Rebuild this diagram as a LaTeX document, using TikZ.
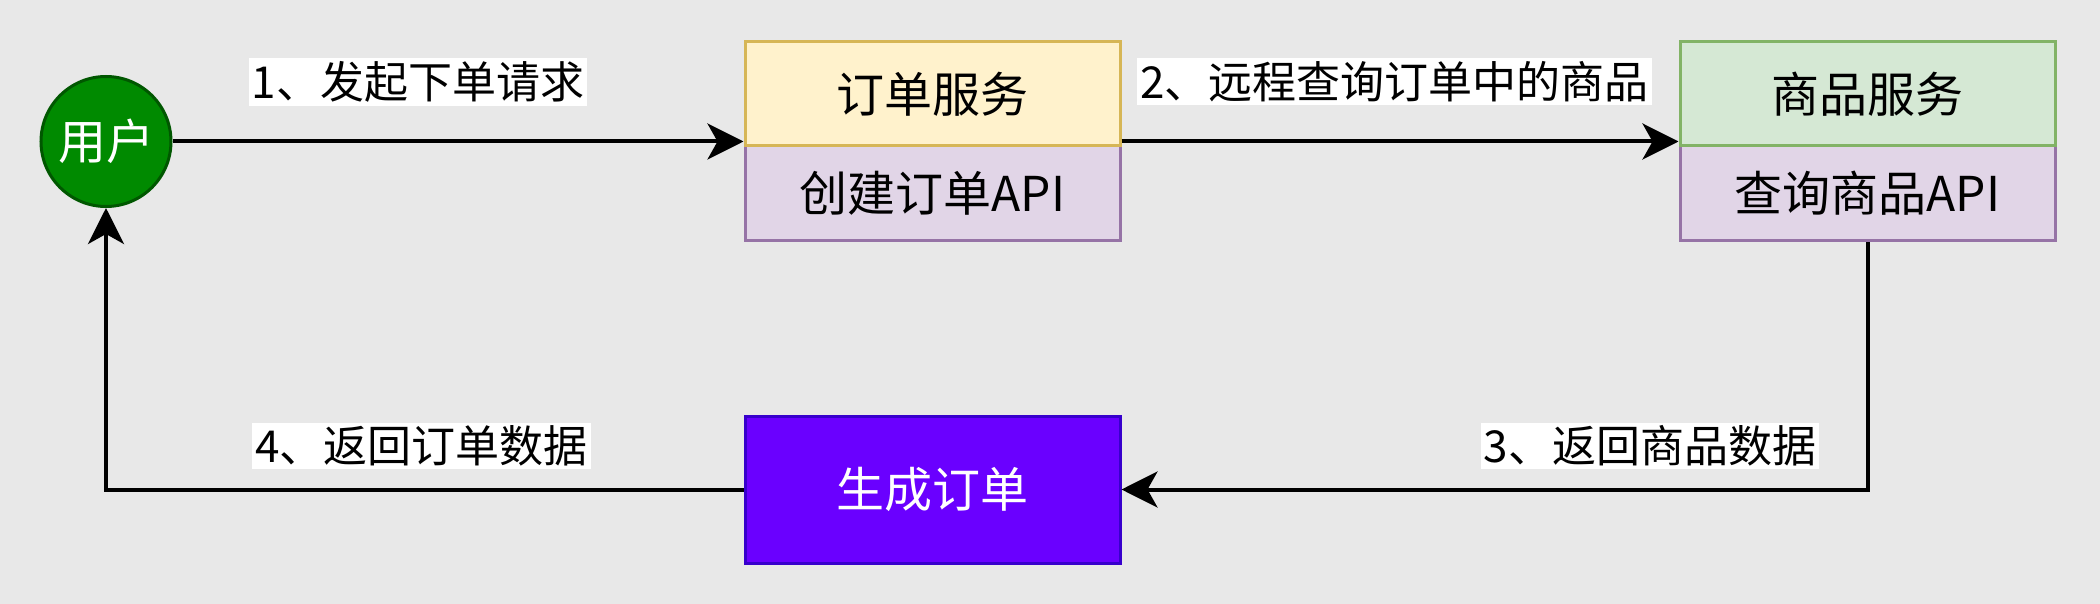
\documentclass[tikz,border=0pt]{standalone}
\usepackage{fontspec}
\setmainfont{Noto Sans CJK SC}
\usetikzlibrary{arrows.meta}
\definecolor{bggray}{HTML}{E8E8E8}
\definecolor{userfill}{HTML}{008A00}\definecolor{userline}{HTML}{005700}
\definecolor{ordfill}{HTML}{FFF2CC}\definecolor{ordline}{HTML}{D6B656}
\definecolor{goodfill}{HTML}{D5E8D4}\definecolor{goodline}{HTML}{82B366}
\definecolor{apifill}{HTML}{E1D5E7}\definecolor{apiline}{HTML}{9673A6}
\definecolor{mkfill}{HTML}{6A00FF}\definecolor{mkline}{HTML}{3700CC}
\begin{document}
\begin{tikzpicture}[x=1pt,y=-1pt,line width=2pt,
  lbl/.style={fill=white,inner sep=1.5pt,font=\fontsize{22}{26}\selectfont},
  box/.style={draw,line width=1.5pt,minimum width=187.5pt,inner sep=0pt,font=\fontsize{24}{28}\selectfont},
  flow/.style={-{Stealth[length=18pt,width=18pt,inset=5pt]},line width=2pt}]
\fill[bggray] (0,0) rectangle (1050,302);
\node[circle,fill=userfill,draw=userline,line width=1.5pt,minimum size=65pt,inner sep=0pt,text=white,font=\fontsize{24}{28}\selectfont] (user) at (53,70.75) {用户};
\node[box,fill=apifill,draw=apiline,minimum height=47.5pt] (ordapi) at (466.25,96.75) {创建订单API};
\node[box,fill=ordfill,draw=ordline,minimum height=52pt] (ordsvc) at (466.25,47) {订单服务};
\node[box,fill=apifill,draw=apiline,minimum height=47.5pt] (goodapi) at (933.75,96.75) {查询商品API};
\node[box,fill=goodfill,draw=goodline,minimum height=52pt] (goodsvc) at (933.75,47) {商品服务};
\node[box,fill=mkfill,draw=mkline,minimum height=73.5pt,text=white] (mkorder) at (466.25,244.75) {生成订单};
\draw[flow] (user) -- (user -| ordsvc.west); \draw[flow] (user -| ordsvc.east) -- (user -| goodsvc.west);
\draw[flow] (goodapi.south) -- (goodapi.south |- mkorder) -- (mkorder.east);
\draw[flow] (mkorder.west) -- (mkorder.west -| user) -- (user.south);
\node[lbl] (req) at (209,41) {1、发起下单请求}; \node[lbl] (query) at (697.25,40.75) {2、远程查询订单中的商品};
\node[lbl] (retgood) at (825,223) {3、返回商品数据}; \node[lbl] (retord) at (210.75,223) {4、返回订单数据};
\end{tikzpicture}
\end{document}
